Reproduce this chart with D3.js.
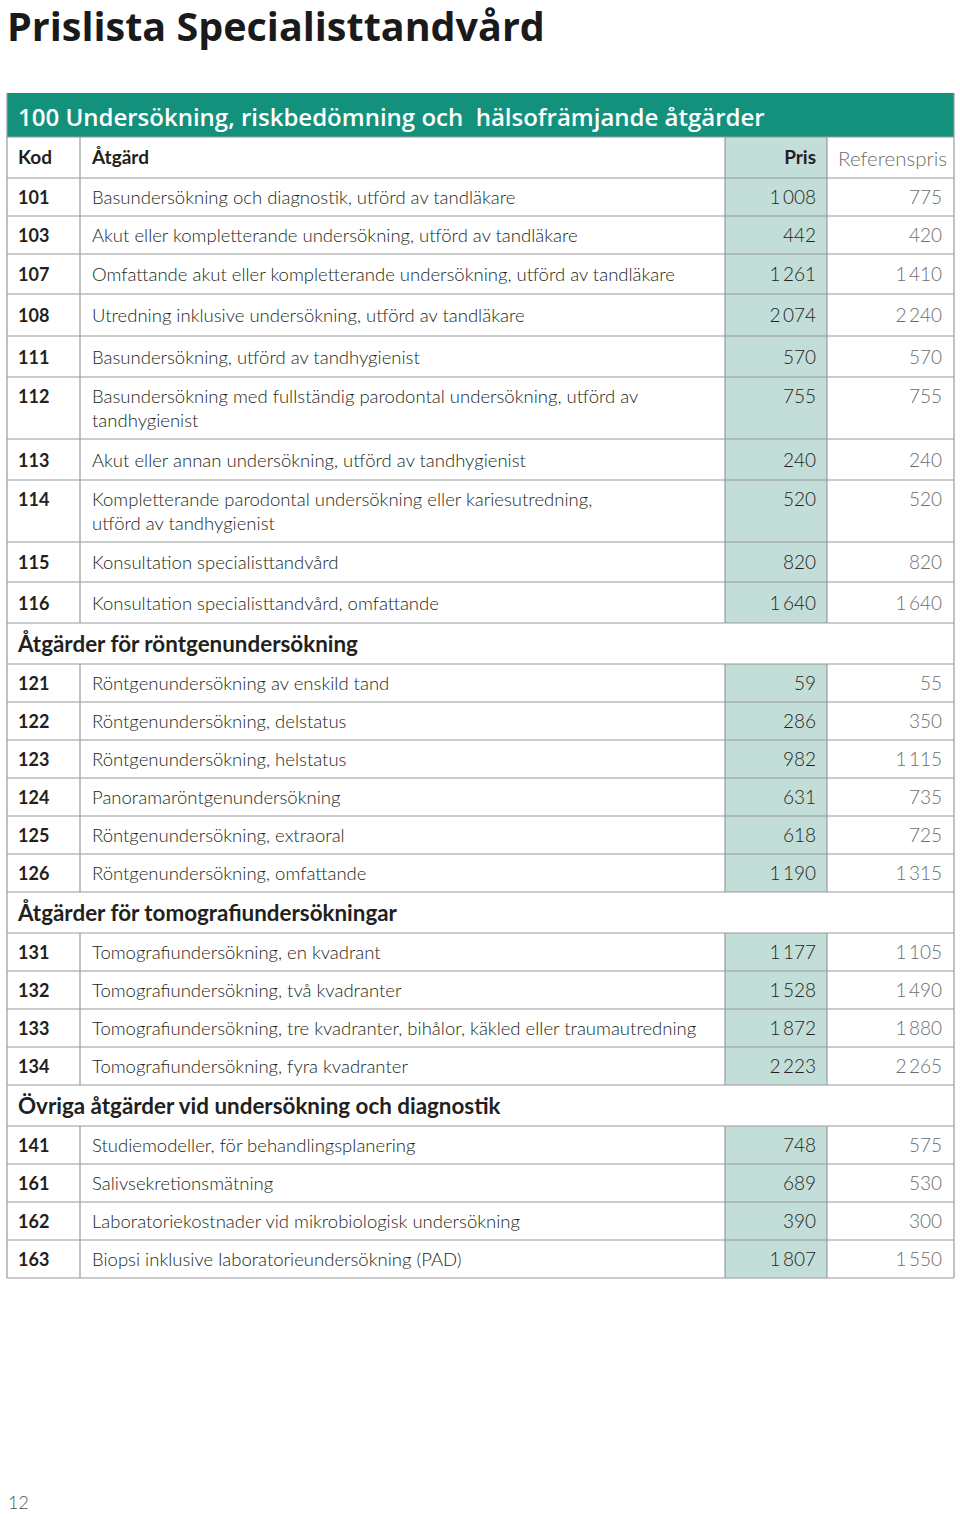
<!DOCTYPE html>
<html><head><meta charset="utf-8">
<script src="https://cdn.jsdelivr.net/npm/d3@7"></script>
<style>body{margin:0;background:#fff}svg{display:block}</style>
</head><body>
<script>
// ---- data ----
const title = "Prislista Specialisttandvård";
const pageNumber = "12";
const columnHeaders = ["Kod", "Åtgärd", "Pris", "Referenspris"];
const sections = [
  "100 Undersökning, riskbedömning och  hälsofrämjande åtgärder",
  "Åtgärder för röntgenundersökning",
  "Åtgärder för tomografiundersökningar",
  "Övriga åtgärder vid undersökning och diagnostik"
];
const codes = ["101","103","107","108","111","112","113","114","115","116",
  "121","122","123","124","125","126",
  "131","132","133","134",
  "141","161","162","163"];
const sectionOf = [0,0,0,0,0,0,0,0,0,0, 1,1,1,1,1,1, 2,2,2,2, 3,3,3,3];
const descriptions = [
  "Basundersökning och diagnostik, utförd av tandläkare",
  "Akut eller kompletterande undersökning, utförd av tandläkare",
  "Omfattande akut eller kompletterande undersökning, utförd av tandläkare",
  "Utredning inklusive undersökning, utförd av tandläkare",
  "Basundersökning, utförd av tandhygienist",
  "Basundersökning med fullständig parodontal undersökning, utförd av\ntandhygienist",
  "Akut eller annan undersökning, utförd av tandhygienist",
  "Kompletterande parodontal undersökning eller kariesutredning,\nutförd av tandhygienist",
  "Konsultation specialisttandvård",
  "Konsultation specialisttandvård, omfattande",
  "Röntgenundersökning av enskild tand",
  "Röntgenundersökning, delstatus",
  "Röntgenundersökning, helstatus",
  "Panoramaröntgenundersökning",
  "Röntgenundersökning, extraoral",
  "Röntgenundersökning, omfattande",
  "Tomografiundersökning, en kvadrant",
  "Tomografiundersökning, två kvadranter",
  "Tomografiundersökning, tre kvadranter, bihålor, käkled eller traumautredning",
  "Tomografiundersökning, fyra kvadranter",
  "Studiemodeller, för behandlingsplanering",
  "Salivsekretionsmätning",
  "Laboratoriekostnader vid mikrobiologisk undersökning",
  "Biopsi inklusive laboratorieundersökning (PAD)"
];
const prices = [1008,442,1261,2074,570,755,240,520,820,1640,
  59,286,982,631,618,1190,
  1177,1528,1872,2223,
  748,689,390,1807];
const refPrices = [775,420,1410,2240,570,755,240,520,820,1640,
  55,350,1115,735,725,1315,
  1105,1490,1880,2265,
  575,530,300,1550];

// ---- layout (pixel heights of the first group's rows, as drawn in the print) ----
const firstGroupRowHeights = [38, 38, 40, 42, 41, 62, 41, 62, 40, 41];

const W = 960, H = 1514;
const svg = d3.select("body").append("svg").attr("width", W).attr("height", H)
  .style("font-family", "Lato, 'Open Sans', sans-serif");

const fmt = d3.formatLocale({decimal: ",", thousands: "\u2009", grouping: [3], currency: ["", ""]}).format(",d");

const teal = "#14917d", paleTeal = "#c3ddd8", lineCol = "#9a9a9a", ink = "#231f20", grey = "#6d6d6d";

const colX = d3.scaleOrdinal().domain(["left","kod","pris","ref","right"]).range([7, 80, 725, 827, 954]);

const rows = [];
let prevSec = 0;
codes.forEach((c, i) => {
  if (sectionOf[i] !== prevSec) { rows.push({type: "section", text: sections[sectionOf[i]]}); prevSec = sectionOf[i]; }
  const lines = descriptions[i].split("\n");
  rows.push({type: "item", i, lines, sec: sectionOf[i]});
});
rows.forEach(r => {
  if (r.type === "section") r.h = 41;
  else if (r.sec === 0) r.h = firstGroupRowHeights[r.i];
  else r.h = r.lines.length > 1 ? 62 : 38;
});
let acc = 0;
rows.forEach(r => { r.u0 = acc; acc += r.h; r.u1 = acc; });
const y = d3.scaleLinear().domain([0, acc]).range([178, 178 + acc]);

// title
svg.append("text").attr("x", 7).attr("y", 41).text(title)
  .attr("font-family", "'Open Sans', sans-serif").attr("font-weight", 700)
  .attr("font-size", 39.5).attr("fill", "#1a1a1a");

// teal header
svg.append("rect").attr("x", colX("left")).attr("y", 93).attr("width", colX("right") - colX("left")).attr("height", 44).attr("fill", teal);
svg.append("text").attr("x", 18).attr("y", 126).text(sections[0])
  .attr("font-family", "'Open Sans', sans-serif").attr("font-weight", 600)
  .attr("font-size", 24).attr("fill", "#fff").style("white-space", "pre");

const hdrTop = 137, hdrBot = 178;
svg.append("rect").attr("x", colX("pris")).attr("y", hdrTop).attr("width", colX("ref") - colX("pris")).attr("height", hdrBot - hdrTop).attr("fill", paleTeal);

const g = svg.append("g");
const items = rows.filter(r => r.type === "item");
const sects = rows.filter(r => r.type === "section");
g.selectAll("rect.pf").data(items).join("rect").attr("class", "pf")
  .attr("x", colX("pris")).attr("y", d => y(d.u0)).attr("width", colX("ref") - colX("pris")).attr("height", d => y(d.u1) - y(d.u0))
  .attr("fill", paleTeal);

const hLines = [hdrTop, hdrBot].concat(rows.map(r => y(r.u1)));
g.selectAll("line.h").data(hLines).join("line").attr("class", "h")
  .attr("x1", colX("left")).attr("x2", colX("right")).attr("y1", d => d).attr("y2", d => d)
  .attr("stroke", lineCol).attr("stroke-width", 1.2);

const vSegs = [{y0: hdrTop, y1: hdrBot}].concat(items.map(r => ({y0: y(r.u0), y1: y(r.u1)})));
["kod", "pris", "ref"].forEach(k => {
  g.selectAll("line.v" + k).data(vSegs).join("line").attr("class", "v" + k)
    .attr("x1", colX(k)).attr("x2", colX(k)).attr("y1", d => d.y0).attr("y2", d => d.y1)
    .attr("stroke", lineCol).attr("stroke-width", 1.2);
});
[colX("left"), colX("right")].forEach(x => {
  g.append("line").attr("x1", x).attr("x2", x).attr("y1", 93).attr("y2", y(acc))
    .attr("stroke", lineCol).attr("stroke-width", 1.2);
});

const hb = 164;
svg.append("text").attr("x", 18).attr("y", hb).text(columnHeaders[0]).attr("font-weight", 700).attr("font-size", 19).attr("fill", ink);
svg.append("text").attr("x", 92).attr("y", hb).text(columnHeaders[1]).attr("font-weight", 700).attr("font-size", 19).attr("fill", ink);
svg.append("text").attr("x", 816).attr("y", hb).attr("text-anchor", "end").text(columnHeaders[2]).attr("font-weight", 700).attr("font-size", 19).attr("fill", ink);
svg.append("text").attr("x", 947).attr("y", 166).attr("text-anchor", "end").text(columnHeaders[3]).attr("font-weight", 300).attr("font-size", 20.5).attr("fill", grey);

svg.selectAll("text.sec").data(sects).join("text").attr("class", "sec")
  .attr("x", 18).attr("y", d => y(d.u0) + 29).text(d => d.text)
  .attr("font-weight", 700).attr("font-size", 22.4).attr("fill", ink);

const baseOf = d => d.lines.length > 1 ? y(d.u0) + 26 : (y(d.u0) + y(d.u1)) / 2 + 7;
svg.selectAll("text.code").data(items).join("text").attr("class", "code")
  .attr("x", 18).attr("y", baseOf).text(d => codes[d.i])
  .attr("font-weight", 700).attr("font-size", 18).attr("fill", ink);
svg.selectAll("text.desc").data(items).join("text").attr("class", "desc")
  .attr("x", 92).attr("y", baseOf).attr("font-weight", 300).attr("font-size", 18.5).attr("fill", ink)
  .each(function(d) {
    d3.select(this).selectAll("tspan").data(d.lines).join("tspan")
      .attr("x", 92).attr("dy", (l, j) => j === 0 ? 0 : 24).text(l => l);
  });
svg.selectAll("text.price").data(items).join("text").attr("class", "price")
  .attr("x", 816).attr("y", baseOf).attr("text-anchor", "end").text(d => fmt(prices[d.i]))
  .attr("font-weight", 300).attr("font-size", 19).attr("fill", ink);
svg.selectAll("text.ref").data(items).join("text").attr("class", "ref")
  .attr("x", 942).attr("y", baseOf).attr("text-anchor", "end").text(d => fmt(refPrices[d.i]))
  .attr("font-weight", 300).attr("font-size", 19).attr("fill", grey);

svg.append("text").attr("x", 8).attr("y", 1509).text(pageNumber).attr("font-weight", 300).attr("font-size", 18).attr("fill", "#555");
</script>
</body></html>
